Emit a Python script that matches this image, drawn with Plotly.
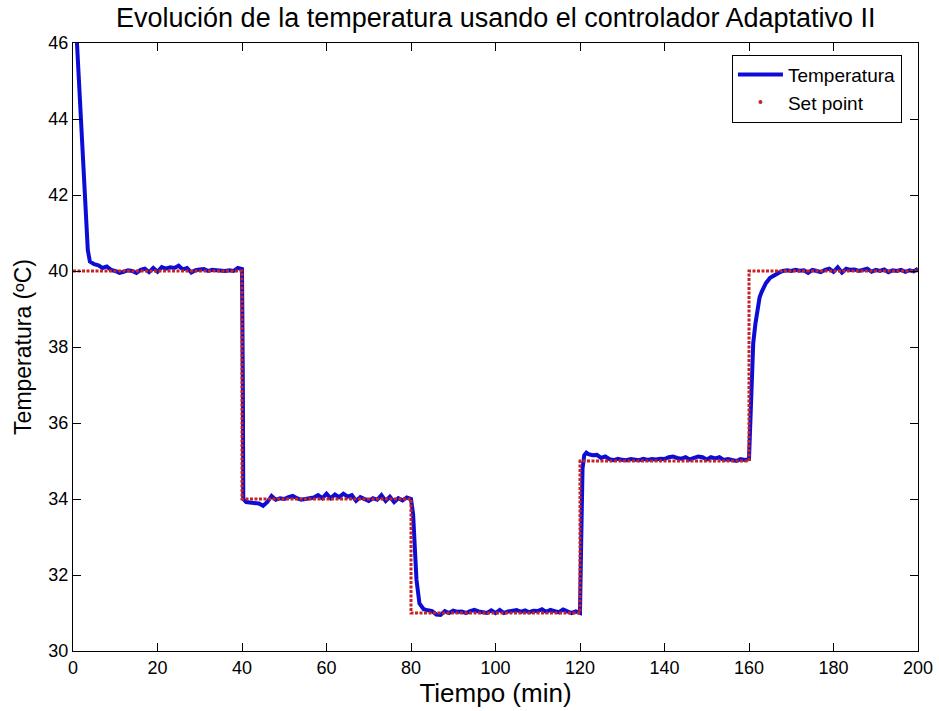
import plotly.graph_objects as go

# Measured temperature (min, ºC)
tiempo = [
    0, 1, 2, 2.6, 3, 3.5, 4, 5, 6, 7, 8, 9, 10, 11, 12, 13, 14, 15, 16, 17, 18, 19,
    20, 21, 22, 23, 24, 25, 26, 27, 28, 29, 30, 31, 32, 33, 34, 35, 36, 37, 38, 39,
    40, 40.2, 40.3, 41, 42, 43, 44, 45, 46, 47, 48, 49, 50, 51, 52, 53, 54, 55, 56, 57,
    58, 59, 60, 61, 62, 63, 64, 65, 66, 67, 68, 69, 70, 71, 72, 73, 74, 75, 76, 77,
    78, 79, 80, 80.5, 80.9, 81.3, 82, 83, 84, 85, 86, 87, 88, 89, 90, 91, 92, 93, 94, 95,
    96, 97, 98, 99, 100, 101, 102, 103, 104, 105, 106, 107, 108, 109, 110, 111, 112, 113, 114, 115,
    116, 117, 118, 119, 120, 120.3, 120.6, 121, 121.5, 122, 123, 124, 125, 126, 127, 128, 129, 130, 131, 132,
    133, 134, 135, 136, 137, 138, 139, 140, 141, 142, 143, 144, 145, 146, 147, 148, 149, 150, 151, 152,
    153, 154, 155, 156, 157, 158, 159, 160, 160.3, 160.7, 161, 161.5, 162, 162.5, 163, 164, 165, 166, 167, 168,
    169, 170, 171, 172, 173, 174, 175, 176, 177, 178, 179, 180, 181, 182, 183, 184, 185, 186, 187, 188,
    189, 190, 191, 192, 193, 194, 195, 196, 197, 198, 199, 200,
]
temperatura = [
    48.0, 45.8, 43.4, 42.1, 41.2, 40.55, 40.25, 40.18, 40.15, 40.08, 40.12, 40.03, 40.0, 39.95, 39.98, 40.02, 40.0, 39.95, 40.03, 40.06, 39.97, 40.08,
    39.98, 40.1, 40.06, 40.1, 40.08, 40.14, 40.04, 40.08, 39.96, 40.02, 40.04, 40.05, 40.0, 40.03, 40.02, 40.01, 40.0, 40.02, 40.0, 40.08,
    40.05, 37.0, 34.0, 33.92, 33.9, 33.9, 33.88, 33.82, 33.92, 34.08, 33.98, 34.02, 34.0, 34.05, 34.08, 34.02, 33.98, 34.0, 34.02, 34.04,
    34.1, 34.02, 34.14, 34.02, 34.12, 34.05, 34.14, 34.06, 34.1, 33.95, 34.05, 34.0, 33.95, 34.02, 33.98, 34.1, 33.95, 34.06, 33.92, 34.02,
    33.96, 34.04, 34.0, 33.6, 32.74, 31.87, 31.25, 31.1, 31.07, 31.05, 30.96, 30.95, 31.05, 31.0, 31.06, 31.03, 31.04, 31.0, 31.05, 31.08,
    31.04, 31.02, 31.0, 31.07, 31.0, 31.08, 31.0, 31.04, 31.06, 31.08, 31.03, 31.07, 31.02, 31.06, 31.05, 31.1, 31.03, 31.08, 31.05, 31.02,
    31.09, 31.04, 31.0, 31.04, 31.0, 33.0, 34.8, 35.15, 35.22, 35.18, 35.15, 35.16, 35.08, 35.12, 35.05, 35.02, 35.06, 35.03, 35.02, 35.05,
    35.03, 35.02, 35.06, 35.03, 35.05, 35.04, 35.06, 35.05, 35.1, 35.12, 35.08, 35.06, 35.1, 35.04, 35.08, 35.12, 35.1, 35.04, 35.1, 35.07,
    35.1, 35.03, 35.05, 35.02, 35.0, 35.05, 35.03, 35.05, 36.0, 37.5, 38.1, 38.6, 39.0, 39.3, 39.45, 39.68, 39.82, 39.9, 39.95, 40.0,
    40.02, 40.0, 40.03, 40.01, 40.02, 39.95, 40.03, 40.0, 39.97, 40.03, 40.06, 39.98, 40.1, 39.96, 40.06, 40.03, 40.04, 40.0, 40.03, 40.06,
    39.98, 40.03, 40.0, 40.04, 39.97, 40.02, 40.0, 40.03, 39.98, 40.02, 39.99, 40.06,
]

# Set point steps (value held from each time until the next)
sp_tiempo = [0, 40, 80, 120, 160, 200]
sp_valor = [40, 34, 31, 35, 40, 40]

x_ticks = [0, 20, 40, 60, 80, 100, 120, 140, 160, 180, 200]
y_ticks = [30, 32, 34, 36, 38, 40, 42, 44, 46]

FONT = "Arial, Liberation Sans, sans-serif"
AZUL = "rgb(12,12,215)"
ROJO = "rgb(200,35,35)"

fig = go.Figure()

fig.add_trace(go.Scatter(
    x=tiempo, y=temperatura, mode="lines", name="Temperatura",
    line=dict(color=AZUL, width=4),
))
fig.add_trace(go.Scatter(
    x=sp_tiempo, y=sp_valor, mode="lines", name="Set point",
    line=dict(color=ROJO, width=3, dash="3px,1.5px", shape="hv"),
    showlegend=False, legendgroup="sp",
))
fig.add_trace(go.Scatter(
    x=[None], y=[None], mode="markers", name="Set point",
    marker=dict(color=ROJO, size=4, symbol="circle"),
    legendgroup="sp",
))

axis_common = dict(
    showgrid=False, zeroline=False, automargin=False,
    showline=True, linecolor="black", linewidth=1, mirror="ticks",
    ticks="inside", ticklen=8, tickcolor="black", tickwidth=1,
    tickfont=dict(family=FONT, size=18, color="black"),
)

fig.update_layout(
    width=939, height=711,
    margin=dict(l=73, r=21, t=43, b=60),
    paper_bgcolor="white", plot_bgcolor="white",
    title=dict(
        text="Evolución de la temperatura usando el controlador Adaptativo II",
        x=0.528, xanchor="center", y=0.976, yanchor="middle",
        font=dict(family=FONT, size=27, color="black"),
    ),
    xaxis=dict(
        range=[0, 200], tickvals=x_ticks,
        title=dict(text="Tiempo (min)", font=dict(family=FONT, size=26, color="black"), standoff=4),
        **axis_common,
    ),
    yaxis=dict(
        range=[30, 46], tickvals=y_ticks,
        title=dict(text="Temperatura (ºC)", font=dict(family=FONT, size=23, color="black"), standoff=10),
        **axis_common,
    ),
    legend=dict(
        x=0.981, xanchor="right", y=0.981, yanchor="top",
        bgcolor="white", bordercolor="black", borderwidth=1,
        font=dict(family=FONT, size=19, color="black"),
        tracegroupgap=0, itemwidth=45,
    ),
    showlegend=True,
)

fig.write_html("out.html")
